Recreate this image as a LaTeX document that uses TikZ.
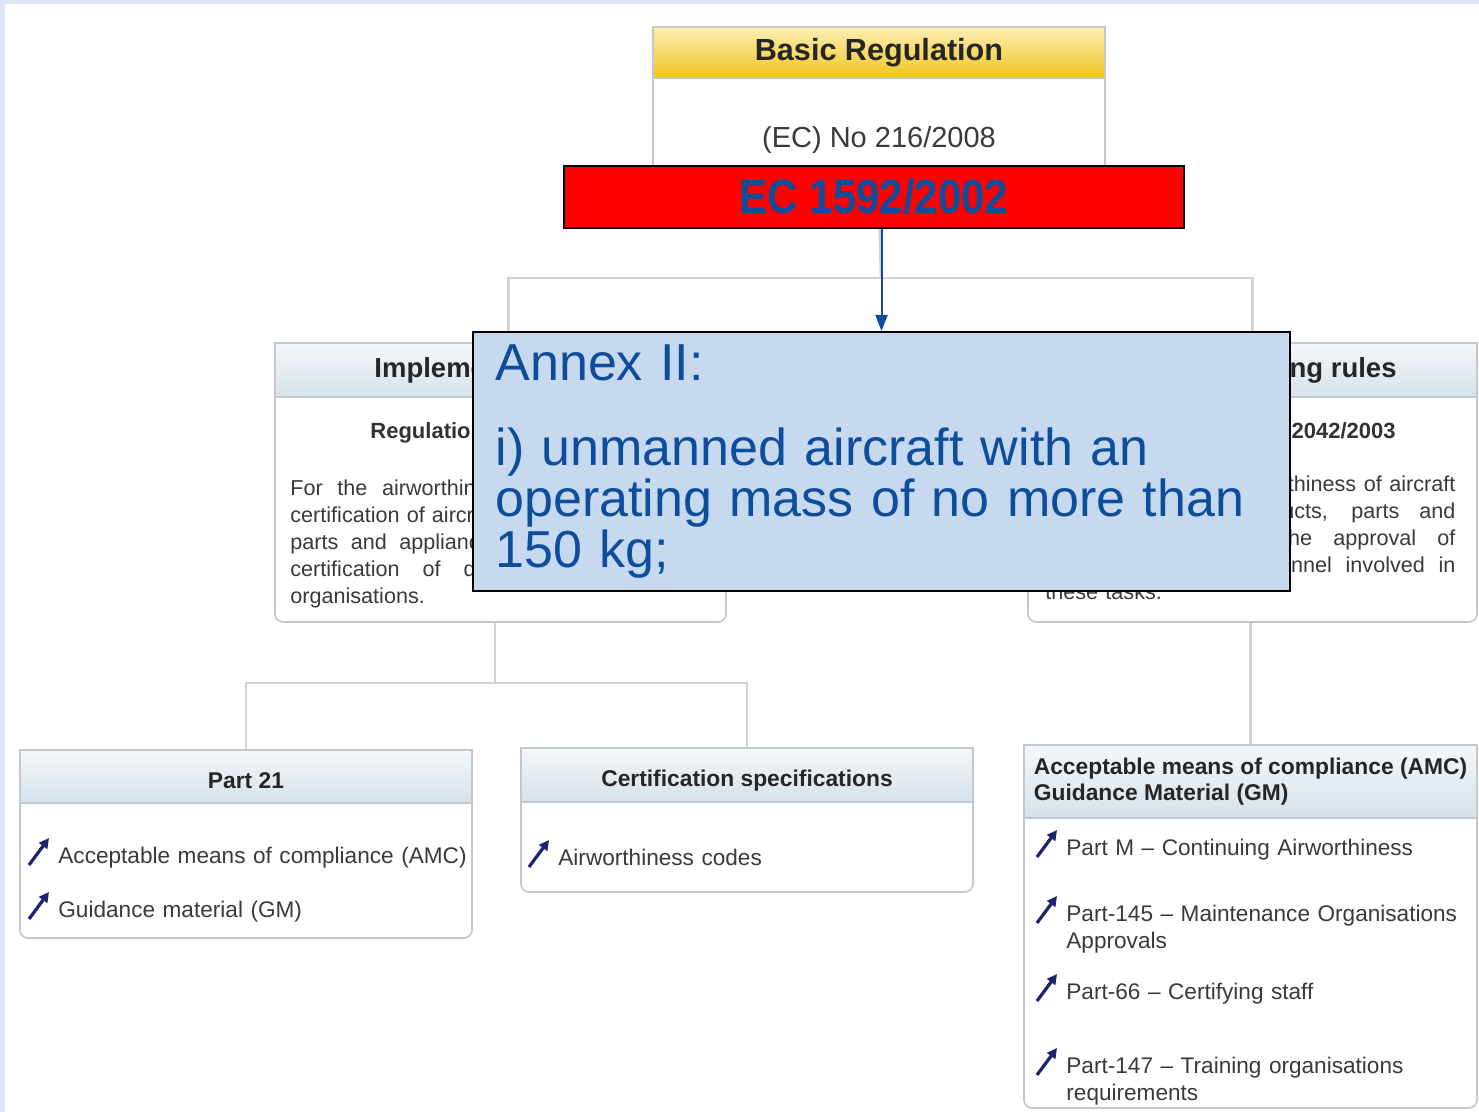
\documentclass[tikz,border=0pt]{standalone}
\usepackage{graphicx}
\usepackage{fontspec}
\setmainfont{Liberation Sans}
\usetikzlibrary{positioning,arrows.meta}

\definecolor{framebg}{HTML}{DCE6F4}
\definecolor{boxline}{HTML}{C4C8CC}
\definecolor{treeline}{HTML}{D0D2D4}
\definecolor{hdrtop}{HTML}{F4F7FA}
\definecolor{hdrbot}{HTML}{D6E2EA}
\definecolor{goldtop}{HTML}{FCEFB4}
\definecolor{goldbot}{HTML}{F1C41E}
\definecolor{bodytext}{HTML}{3A3A3A}
\definecolor{annexfill}{HTML}{C6D9EF}
\definecolor{annexblue}{HTML}{0E4C9C}
\definecolor{iconblue}{HTML}{1C2470}

\tikzset{
  box/.style={draw=boxline, line width=0.8pt, fill=white, rounded corners=4pt, inner sep=0pt},
  hdr/.style={draw=boxline, line width=0.8pt, top color=hdrtop, bottom color=hdrbot, inner sep=0pt,
    font=\fontsize{11.4}{13}\selectfont\bfseries, text=black!85},
  hdrline/.style={hdr, text height=14pt, text depth=2.4pt},
  tree/.style={treeline, line width=1.3pt},
  para/.style={text width=#1, align=left, inner sep=0pt, text=bodytext,
    font=\fontsize{10.8}{13.5}\selectfont},
  entry/.style={inner sep=0pt, anchor=base west, text width=215pt, align=left, text=bodytext,
    font=\fontsize{11.3}{13.5}\selectfont},
  pointer/.style={iconblue, line width=1.6pt, -{Triangle[length=5pt,width=5pt]}},
  annexarrow/.style={draw=annexblue, line width=1pt, -{Triangle[length=8pt,width=6pt]}},
}
\newcommand{\pointat}[1]{\draw[pointer] ([shift={(-29,2)}]#1.base west) -- ([shift={(-9,-25)}]#1.base west);}
\newcommand{\fullline}[2]{\leavevmode\hbox to #1{\spaceskip=3pt plus 20pt minus 1pt #2}}

\begin{document}
\begin{tikzpicture}[x=0.5pt,y=-0.5pt]
\useasboundingbox (0,0) rectangle (1479,1112);
\fill[framebg] (0,0) rectangle (1479,1112);
\fill[white] (5,4) rectangle (1479,1112);

\node[box, minimum width=226pt, minimum height=86.5pt] (br) at (879,113.5) {};
\node[hdr, minimum width=226pt, minimum height=25.5pt, top color=goldtop, bottom color=goldbot,
  font=\fontsize{15.3}{18}\selectfont\bfseries, below=0pt of br.north] (brhead) {Basic Regulation};
\node[inner sep=0pt, text=bodytext, font=\fontsize{14.5}{17}\selectfont] (brno) at (879,140) {(EC) No 216/2008};

\node[box, minimum width=225.5pt, minimum height=139.5pt] (irl) at (500.5,482.5) {};
\node[hdr, minimum width=225.5pt, minimum height=27pt, font=\fontsize{13.75}{16}\selectfont\bfseries,
  below=0pt of irl.north] (irlhead) {Implementing rules};
\node[anchor=base west, inner sep=0pt, text=black!80, font=\fontsize{11}{13}\selectfont\bfseries]
  (irlreg) at (370,439) {Regulation (EC) No 1702/2003};
\node[para=210pt, anchor=north west] (irltext) at (290,479) {\fullline{210pt}{For the airworthiness and environmental}\\
  \fullline{210pt}{certification of aircraft and related products,}\\ \fullline{210pt}{parts and appliances, as well as for the}\\
  \fullline{210pt}{certification of design and production}\\ organisations.};

\node[box, minimum width=224.5pt, minimum height=139.5pt] (irr) at (1252.5,482.5) {};
\node[hdr, minimum width=224.5pt, minimum height=27pt, font=\fontsize{13.75}{16}\selectfont\bfseries,
  below=0pt of irr.north] (irrhead) {\hspace*{18pt}Implementing rules};
\node[anchor=base east, inner sep=0pt, text=black!80, font=\fontsize{11}{13}\selectfont\bfseries]
  (irrreg) at (1396,439) {Regulation (EC) No 2042/2003};
\node[para=205pt, anchor=north west] (irrtext) at (1045,475) {\fullline{205pt}{For the continuing airworthiness of aircraft}\\
  \fullline{205pt}{and aeronautical products, parts and}\\ \fullline{205pt}{appliances, and on the approval of}\\
  \fullline{205pt}{organisations and personnel involved in}\\ these tasks.};

\node[box, minimum width=226pt, minimum height=94pt] (p21) at (246,844) {};
\node[hdrline, minimum width=226pt, minimum height=26.5pt, below=0pt of p21.north] (p21head) {Part 21};
\node[entry] (p21amc) at (58,863) {Acceptable means of compliance (AMC)};
\node[entry] (p21gm) at (58,917) {Guidance material (GM)};
\pointat{p21amc}
\pointat{p21gm}

\node[box, minimum width=226pt, minimum height=72pt] (cs) at (747,820) {};
\node[hdrline, minimum width=226pt, minimum height=27pt, below=0pt of cs.north] (cshead) {Certification specifications};
\node[entry] (cscodes) at (558,865) {Airworthiness codes};
\pointat{cscodes}

\node[box, minimum width=226.5pt, minimum height=181.5pt] (amc) at (1250.5,926.5) {};
\node[hdr, minimum width=226.5pt, minimum height=36.5pt, align=left, below=0pt of amc.north]
  (amchead) {Acceptable means of compliance (AMC)\\Guidance Material (GM)};
\node[entry] (partm) at (1066,855) {Part M -- Continuing Airworthiness};
\node[entry] (part145) at (1066,921) {Part-145 -- Maintenance Organisations\\Approvals};
\node[entry] (part66) at (1066,999) {Part-66 -- Certifying staff};
\node[entry] (part147) at (1066,1073) {Part-147 -- Training organisations\\requirements};
\foreach \n in {partm,part145,part66,part147} {\pointat{\n}}

\coordinate (topjoin) at (881,278);
\coordinate (leftjoin) at (495,683);
\draw[tree] (br.south) -- (topjoin);
\draw[tree] ([xshift=4pt]irl.north) |- (topjoin) -| (irr.north);
\draw[tree] (irl.south -| leftjoin) -- (leftjoin);
\draw[tree] (p21.north) |- (leftjoin) -| (cs.north);
\draw[tree] (irr.south -| amc.north) -- (amc.north);

\node[draw=black, line width=1pt, fill=red, minimum width=310pt, minimum height=31pt, text=annexblue,
  font=\fontsize{24}{28}\selectfont\bfseries] (ec) at (874,197) {\scalebox{0.875}[1]{EC 1592/2002}};

\node[draw=black, line width=1pt, fill=annexfill, minimum width=408.5pt, minimum height=129.5pt,
  text width=386pt, inner xsep=11pt, align=left, text=annexblue, font=\fontsize{26}{25.5}\selectfont]
  (annex) at (881.5,461.5) {Annex II:\\[17pt]i) unmanned aircraft with an\\operating mass of no more than\\150 kg;};

\draw[annexarrow] (ec.south -| annex.north) -- (annex.north);
\end{tikzpicture}
\end{document}
